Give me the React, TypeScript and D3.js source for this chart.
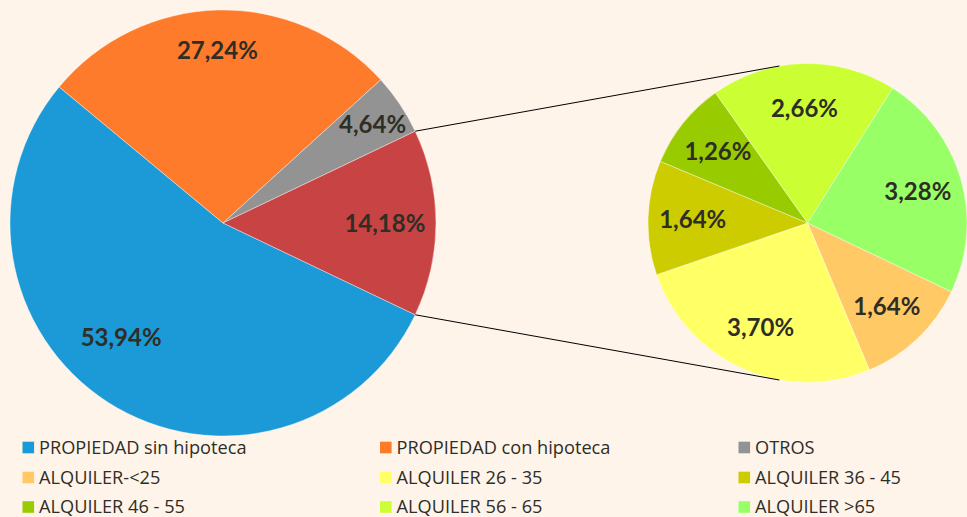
import React from "react";
import * as d3 from "d3";

const mainCategories = ["PROPIEDAD sin hipoteca", "PROPIEDAD con hipoteca", "OTROS", "ALQUILER"];
const mainValues = [53.94, 27.24, 4.64, 14.18];
const mainColors = ["#1B9AD7", "#FD7B2A", "#939393", "#C84343"];

const subCategories = ["ALQUILER-<25", "ALQUILER 26 - 35", "ALQUILER 36 - 45", "ALQUILER 46 - 55", "ALQUILER 56 - 65", "ALQUILER >65"];
const subValues = [1.64, 3.70, 1.64, 1.26, 2.66, 3.28];
const subColors = ["#FFC966", "#FFFF66", "#CCCC00", "#99CC00", "#CCFF33", "#99FF66"];

const W = 967, H = 517;
const BG = "#FEF4EA";
const TXT = "#2F2E26";

const fmt = (v: number) => v.toFixed(2).replace(".", ",") + "%";

export default function App() {
  const mc = { x: 223, y: 223 }, mR = 213;
  const sc = { x: 807.5, y: 223 }, sR = 159.5;

  const total = d3.sum(mainValues);
  const aggFrac = mainValues[3] / total;
  const start = Math.PI / 2 + aggFrac * Math.PI;

  const mainArcs = d3.pie<number>().sort(null).startAngle(start).endAngle(start + 2 * Math.PI)(mainValues);
  const subArcs = d3.pie<number>().sort(null).startAngle(start).endAngle(start + 2 * Math.PI)(subValues);
  const mArc = d3.arc<any>().innerRadius(0).outerRadius(mR);
  const sArc = d3.arc<any>().innerRadius(0).outerRadius(sR);

  // label placement tweaks (angle offset deg, radius fraction) for main pie
  const mainLabelFit = [[9, 0.72], [-0.6, 0.81], [0.6, 0.84], [0, 0.76]];
  const polar = (c: { x: number; y: number }, a: number, r: number) => ({ x: c.x + r * Math.sin(a), y: c.y - r * Math.cos(a) });

  // connectors: from aggregate slice edges to tangent points on secondary pie
  const agg = mainArcs[3];
  const p1 = polar(mc, agg.startAngle, mR);
  const p2 = polar(mc, agg.endAngle, mR);
  const tangent = (p: { x: number; y: number }, top: boolean) => {
    const vx = p.x - sc.x, vy = p.y - sc.y;
    const d = Math.hypot(vx, vy);
    const ang = Math.acos(sR / d);
    const ux = vx / d, uy = vy / d;
    const cands = [ang, -ang].map((t) => ({
      x: sc.x + sR * (ux * Math.cos(t) - uy * Math.sin(t)),
      y: sc.y + sR * (ux * Math.sin(t) + uy * Math.cos(t)),
    }));
    return cands.sort((a, b) => (top ? a.y - b.y : b.y - a.y))[0];
  };
  const t1 = tangent(p1, true);
  const t2 = tangent(p2, false);

  const legendItems = [
    ...mainCategories.slice(0, 3).map((c, i) => ({ label: c, color: mainColors[i] })),
    ...subCategories.map((c, i) => ({ label: c, color: subColors[i] })),
  ];
  const colX = [22.5, 380, 738.5];
  const rowY = [447.5, 477.5, 507];

  return (
    <svg width={W} height={H} style={{ position: "absolute", left: 0, top: 0, background: BG }}>
      <rect x={0} y={0} width={W} height={H} fill={BG} />
      <g transform={`translate(${mc.x},${mc.y})`}>
        {mainArcs.map((a, i) => (
          <path key={i} d={mArc(a) as string} fill={mainColors[i]} stroke="#ffffff" strokeWidth={0.4} />
        ))}
      </g>
      <g transform={`translate(${sc.x},${sc.y})`}>
        {subArcs.map((a, i) => (
          <path key={i} d={sArc(a) as string} fill={subColors[i]} stroke="#ffffff" strokeWidth={0.4} />
        ))}
      </g>
      <line x1={p1.x} y1={p1.y} x2={t1.x} y2={t1.y} stroke="#000" strokeWidth={1} />
      <line x1={p2.x} y1={p2.y} x2={t2.x} y2={t2.y} stroke="#000" strokeWidth={1} />
      <g fontFamily="Lato, 'Open Sans', sans-serif" fontWeight="bold" fontSize={24} fill={TXT} textAnchor="middle">
        {mainArcs.map((a, i) => {
          const mid = (a.startAngle + a.endAngle) / 2 + (mainLabelFit[i][0] * Math.PI) / 180;
          const p = polar(mc, mid, mR * mainLabelFit[i][1]);
          return (
            <text key={i} x={p.x} y={p.y} dy="0.36em">{fmt(mainValues[i])}</text>
          );
        })}
        {subArcs.map((a, i) => {
          const mid = (a.startAngle + a.endAngle) / 2;
          const p = polar(sc, mid, sR * 0.72);
          return (
            <text key={i} x={p.x} y={p.y} dy="0.36em">{fmt(subValues[i])}</text>
          );
        })}
      </g>
      <g fontFamily="'Open Sans', Lato, sans-serif" fontSize={18.2} fill={TXT}>
        {legendItems.map((it, i) => {
          const x = colX[i % 3];
          const y = rowY[Math.floor(i / 3)];
          return (
            <g key={i}>
              <rect x={x} y={y - 5.8} width={11.6} height={11.6} fill={it.color} />
              <text x={x + 16.5} y={y} dy="0.35em">{it.label}</text>
            </g>
          );
        })}
      </g>
    </svg>
  );
}
